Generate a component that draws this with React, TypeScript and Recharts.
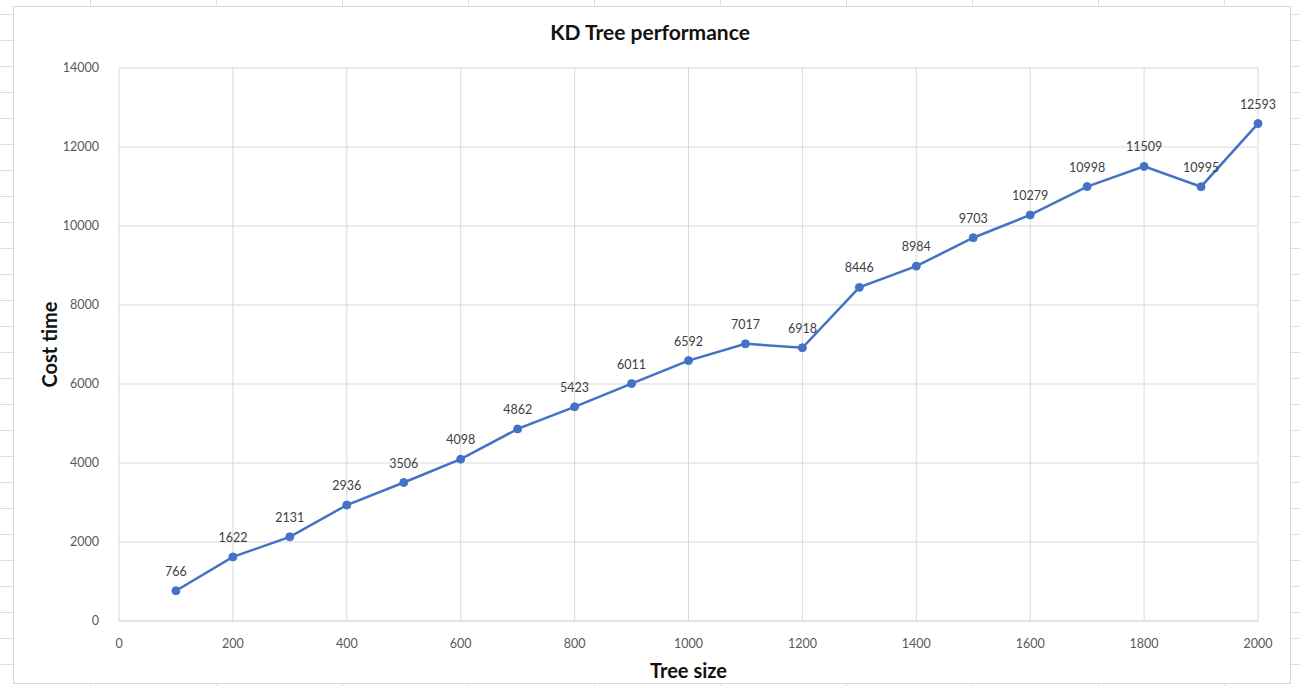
import { CartesianGrid, LabelList, Line, LineChart, XAxis, YAxis } from "recharts";

const treeSizes = [100, 200, 300, 400, 500, 600, 700, 800, 900, 1000, 1100, 1200, 1300, 1400, 1500, 1600, 1700, 1800, 1900, 2000];
const costTimes = [766, 1622, 2131, 2936, 3506, 4098, 4862, 5423, 6011, 6592, 7017, 6918, 8446, 8984, 9703, 10279, 10998, 11509, 10995, 12593];
const xTicks = [0, 200, 400, 600, 800, 1000, 1200, 1400, 1600, 1800, 2000];
const yTicks = [0, 2000, 4000, 6000, 8000, 10000, 12000, 14000];

const data = treeSizes.map((size, i) => ({ size, cost: costTimes[i] }));

const font = "Lato, 'Open Sans', sans-serif";

const App = () => {
  return (
    <div
      style={{
        position: "absolute",
        left: 0,
        top: 0,
        width: 1300,
        height: 686,
        fontFamily: font,
        backgroundColor: "#fff",
        backgroundImage:
          "linear-gradient(to bottom, #dedede 1px, transparent 1px), linear-gradient(to right, #dedede 1px, transparent 1px)",
        backgroundSize: "126px 26px",
        backgroundPosition: "90px 14px",
        overflow: "hidden",
      }}
    >
      <div
        style={{
          position: "absolute",
          left: 13,
          top: 6,
          width: 1276,
          height: 676,
          border: "1px solid #d9d9d9",
          background: "#fff",
        }}
      />
      <div
        style={{
          position: "absolute",
          left: 0,
          top: 19,
          width: 1300,
          textAlign: "center",
          fontWeight: 700,
          fontSize: 21,
          color: "#111",
        }}
      >
        KD Tree performance
      </div>
      <div style={{ position: "absolute", left: 0, top: 0 }}>
        <LineChart
          width={1300}
          height={686}
          data={data}
          margin={{ top: 68, right: 42, bottom: 0, left: 0 }}
        >
          <CartesianGrid stroke="#d9d9d9" horizontalValues={yTicks} verticalValues={xTicks} />
          <XAxis
            dataKey="size"
            type="number"
            domain={[0, 2000]}
            ticks={xTicks}
            interval={0}
            axisLine={{ stroke: "#d9d9d9" }}
            tickLine={false}
            tick={{ fill: "#595959", fontSize: 12.5, fontFamily: font }}
            tickMargin={12}
            height={65}
            label={{
              value: "Tree size",
              position: "insideBottom",
              offset: 8,
              style: { fill: "#111", fontWeight: 700, fontSize: 20, fontFamily: font },
            }}
          />
          <YAxis
            type="number"
            domain={[0, 14000]}
            ticks={yTicks}
            interval={0}
            axisLine={false}
            tickLine={false}
            tick={{ fill: "#595959", fontSize: 12.5, fontFamily: font }}
            tickMargin={14}
            width={119}
            label={{
              value: "Cost time",
              angle: -90,
              position: "insideLeft",
              offset: 50,
              style: { textAnchor: "middle", fill: "#111", fontWeight: 700, fontSize: 20, fontFamily: font },
            }}
          />
          <Line
            type="linear"
            dataKey="cost"
            stroke="#4472C4"
            strokeWidth={2.5}
            dot={{ r: 4, fill: "#4472C4", stroke: "#4472C4", strokeWidth: 1 }}
            activeDot={false}
            isAnimationActive={false}
          >
            <LabelList
              dataKey="cost"
              position="top"
              offset={15}
              style={{ fill: "#404040", fontSize: 12.5, fontFamily: font }}
            />
          </Line>
        </LineChart>
      </div>
    </div>
  );
};

export default App;
